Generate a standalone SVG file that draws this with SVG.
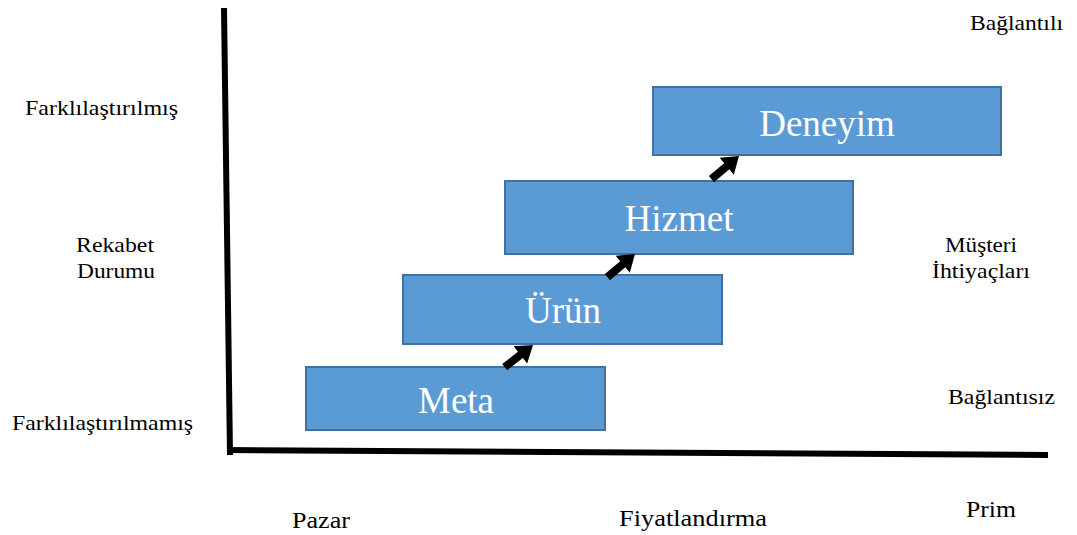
<svg xmlns="http://www.w3.org/2000/svg" width="1077" height="535" viewBox="0 0 1077 535">
  <defs>
    <style>
      .box { fill: #5B9BD5; stroke: #41719C; stroke-width: 2; }
      .box-label { font-family: "Liberation Serif", "Times New Roman", serif; font-size: 37px; fill: #FFFFFF; text-anchor: middle; }
      .axis { stroke: #000000; stroke-width: 6; fill: none; stroke-linecap: butt; }
      .label { font-family: "Liberation Serif", "Times New Roman", serif; font-size: 21px; fill: #000000; }
      .label-lg { font-size: 23px; }
      .step { fill: #000000; }
    </style>
    <!-- block arrow pointing along +x, tip at origin -->
    <path id="block-arrow" d="M-36,-4 L-16,-4 L-16,-11 L0,0 L-16,11 L-16,4 L-36,4 Z"/>
  </defs>

  <rect width="1077" height="535" fill="#FFFFFF"/>

  <!-- axes -->
  <g id="axes">
    <line class="axis" x1="224" y1="8" x2="230" y2="455"/>
    <line class="axis" x1="228" y1="450" x2="1048" y2="455"/>
  </g>

  <!-- axis labels -->
  <g id="labels" class="label">
    <text x="25" y="115" textLength="153" lengthAdjust="spacingAndGlyphs">Farklılaştırılmış</text>
    <text x="76" y="252" textLength="78" lengthAdjust="spacingAndGlyphs">Rekabet</text>
    <text x="77" y="278" textLength="78" lengthAdjust="spacingAndGlyphs">Durumu</text>
    <text x="12" y="430" textLength="181" lengthAdjust="spacingAndGlyphs">Farklılaştırılmamış</text>
    <text x="970" y="30" textLength="93" lengthAdjust="spacingAndGlyphs">Bağlantılı</text>
    <text x="945" y="252" textLength="72" lengthAdjust="spacingAndGlyphs">Müşteri</text>
    <text x="932" y="278" textLength="98" lengthAdjust="spacingAndGlyphs">İhtiyaçları</text>
    <text x="948" y="404" textLength="107" lengthAdjust="spacingAndGlyphs">Bağlantısız</text>
    <text class="label-lg" x="292" y="528" textLength="58" lengthAdjust="spacingAndGlyphs">Pazar</text>
    <text class="label-lg" x="619" y="526" textLength="148" lengthAdjust="spacingAndGlyphs">Fiyatlandırma</text>
    <text class="label-lg" x="966" y="517" textLength="50" lengthAdjust="spacingAndGlyphs" style="font-size:24px">Prim</text>
  </g>

  <!-- steps -->
  <g id="node-meta">
    <rect class="box" x="306" y="367" width="299" height="63"/>
    <text class="box-label" x="456" y="413">Meta</text>
  </g>
  <g id="node-urun">
    <rect class="box" x="403" y="275" width="319" height="69"/>
    <text class="box-label" x="563" y="323">Ürün</text>
  </g>
  <g id="node-hizmet">
    <rect class="box" x="505" y="181" width="348" height="73"/>
    <text class="box-label" x="679" y="231">Hizmet</text>
  </g>
  <g id="node-deneyim">
    <rect class="box" x="653" y="87" width="348" height="68"/>
    <text class="box-label" x="827" y="136">Deneyim</text>
  </g>

  <!-- connectors -->
  <g id="connectors" class="step">
    <use href="#block-arrow" transform="translate(533,345) rotate(-38)"/>
    <use href="#block-arrow" transform="translate(635,254) rotate(-40)"/>
    <use href="#block-arrow" transform="translate(739,156) rotate(-40)"/>
  </g>
</svg>
